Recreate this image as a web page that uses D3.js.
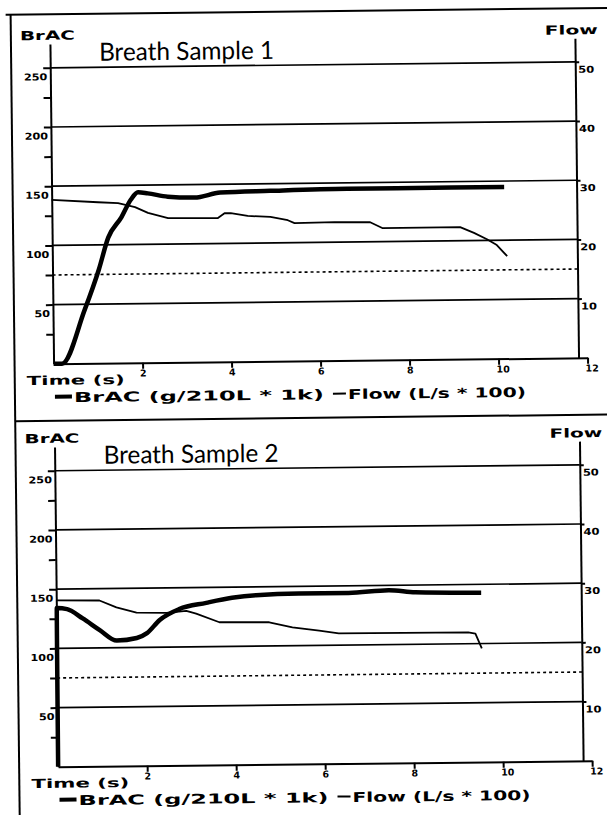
<!DOCTYPE html>
<meta charset="utf-8">
<style>
body { margin: 0; background: #fff; }
.frame { stroke: #000; stroke-width: 2px; }
.grid { stroke: #000; stroke-width: 1.7px; }
.axis path, .axis line { stroke: #000; stroke-width: 2px; }
.axis text { font-family: "DejaVu Sans"; font-weight: bold; font-size: 9.5px; fill: #000; }
.brac { fill: none; stroke: #000; stroke-width: 4.5px; stroke-linejoin: round; }
.flow { fill: none; stroke: #000; stroke-width: 1.8px; stroke-linejoin: round; }
.limit { stroke: #000; stroke-width: 1.6px; stroke-dasharray: 3,3; }
.lbl { font-family: "DejaVu Sans"; font-weight: bold; fill: #000; }
.title { font-family: "Lato", "Open Sans", sans-serif; font-size: 25px; fill: #000; }
</style>
<body>
<script src="https://d3js.org/d3.v7.min.js"></script>
<script>

// values read off the two printouts
// time in s, BrAC in g/210L * 1k, flow in L/s * 100
var brac1Time  = [0, 0.19, 0.71, 1.04, 1.26, 1.56, 1.78, 1.94, 2.16, 2.61, 3.21, 3.79, 4.91, 6.64, 7.76, 10.17];
var brac1Value = [0, 0, 45, 79, 106, 123, 138, 144, 143, 140, 139, 143, 144, 145, 145, 145];

var flow1Time  = [0, 1.04, 1.49, 1.87, 2.16, 2.61, 3.73, 3.88, 4.02, 4.4, 4.91, 5.3, 5.45, 6.35, 7.15, 7.42, 9.17, 9.48, 9.77, 9.99, 10.22];
var flow1Value = [27.7, 27.2, 27.0, 26.3, 25.3, 24.4, 24.3, 25.1, 25.1, 24.6, 24.4, 23.8, 23.3, 23.4, 23.3, 22.3, 22.3, 21.3, 20.2, 19.2, 17.3];

var brac2Time  = [0, 0.01, 0.24, 0.59, 0.97, 1.35, 1.80, 2.03, 2.32, 2.76, 3.37, 3.95, 4.49, 5.45, 6.57, 7.47, 8.07, 9.55];
var brac2Value = [0, 134, 133, 125, 115, 106, 108, 112, 123, 132, 137, 141, 143, 144, 144, 146, 144, 143];

var flow2Time  = [0, 0.97, 1.35, 1.80, 2.47, 2.92, 3.14, 3.66, 4.78, 5.3, 5.9, 6.34, 9.25, 9.41, 9.55];
var flow2Value = [28.1, 28.0, 26.8, 25.9, 25.8, 26.1, 25.6, 24.1, 24.0, 23.1, 22.5, 22.0, 21.9, 21.7, 19.2];

var limitBrac = 75;

var timeTicks  = [2, 4, 6, 8, 10, 12];
var bracTicks  = [25, 50, 75, 100, 125, 150, 175, 200, 225, 250];
var bracGrid   = [50, 100, 150, 200, 250];
var flowTicks  = [10, 20, 30, 40, 50];

// page layout (the printout is scanned a little crooked, hence the rotate)
var W = 607, H = 815;
var panelOffset = 403;
var xRight = 579;

var svg = d3.select("body").append("svg")
    .attr("width", W)
    .attr("height", H);

var root = svg.append("g")
    .attr("transform", "rotate(-0.65,300,400)");

// outer box and separator
root.append("line").attr("class", "frame").attr("x1", 10).attr("x2", 640).attr("y1", 11.5).attr("y2", 11.5);
root.append("line").attr("class", "frame").attr("x1", 15).attr("x2", 15).attr("y1", 11).attr("y2", 840);
root.append("line").attr("class", "frame").attr("x1", 15).attr("x2", 640).attr("y1", 418).attr("y2", 418);

var x = d3.scaleLinear().domain([0, 12]).range([54, 588]);
var y = d3.scaleLinear().domain([0, 270]).range([361, 41.3]);
var yFlow = d3.scaleLinear().domain([0, 54]).range([361, 41.3]);

function zip(a, b) {
    return a.map(function(d, i) { return [d, b[i]]; });
}

function drawPanel(top, title, bT, bV, fT, fV) {
    var g = root.append("g").attr("transform", "translate(0," + top + ")");

    // grid lines
    g.selectAll(".grid")
        .data(bracGrid)
      .enter().append("line")
        .attr("class", "grid")
        .attr("x1", x(0)).attr("x2", xRight)
        .attr("y1", function(d) { return y(d); })
        .attr("y2", function(d) { return y(d); });

    // limit line
    g.append("line")
        .attr("class", "limit")
        .attr("x1", x(0)).attr("x2", xRight)
        .attr("y1", y(limitBrac)).attr("y2", y(limitBrac));

    // left axis
    var left = g.append("g")
        .attr("class", "axis")
        .attr("transform", "translate(" + x(0) + ",0)")
        .call(d3.axisLeft(y).tickValues(bracTicks).tickSize(7).tickPadding(-4).tickSizeOuter(0)
            .tickFormat(function(d) { return d % 50 === 0 ? d : ""; }));
    left.selectAll("text")
        .attr("dy", "1.25em")
        .filter(function(d) { return d % 50 === 0; })
        .attr("textLength", function(d) { return String(d).length * 7.8; })
        .attr("lengthAdjust", "spacingAndGlyphs");

    // right axis
    var right = g.append("g")
        .attr("class", "axis")
        .attr("transform", "translate(" + xRight + ",0)")
        .call(d3.axisRight(yFlow).tickValues(flowTicks).tickSize(4).tickPadding(-1).tickSizeOuter(0));
    right.selectAll("text")
        .attr("dy", "1.1em")
        .attr("textLength", function(d) { return String(d).length * 8; })
        .attr("lengthAdjust", "spacingAndGlyphs");

    // bottom axis
    var bottom = g.append("g")
        .attr("class", "axis")
        .attr("transform", "translate(0," + y(0) + ")")
        .call(d3.axisBottom(x).tickValues(timeTicks).tickSize(6).tickPadding(1).tickSizeOuter(0));
    bottom.selectAll("text").attr("dx", function(d) { return d >= 10 ? 4 : 0; });

    // curves
    var bracLine = d3.line()
        .x(function(d) { return x(d[0]); })
        .y(function(d) { return y(d[1]); })
        .curve(d3.curveMonotoneX);
    var flowLine = d3.line()
        .x(function(d) { return x(d[0]); })
        .y(function(d) { return yFlow(d[1]); });

    g.append("path").datum(zip(fT, fV)).attr("class", "flow").attr("d", flowLine);
    g.append("path").datum(zip(bT, bV)).attr("class", "brac").attr("d", bracLine);

    // labels
    g.append("text").attr("class", "lbl").attr("x", 24).attr("y", 37)
        .style("font-size", "12.5px")
        .attr("textLength", 55).attr("lengthAdjust", "spacingAndGlyphs")
        .text("BrAC");
    g.append("text").attr("class", "lbl").attr("x", 549).attr("y", 37.5)
        .style("font-size", "12.5px")
        .attr("textLength", 53).attr("lengthAdjust", "spacingAndGlyphs")
        .text("Flow");
    g.append("text").attr("class", "title").attr("x", 103).attr("y", 58.5)
        .attr("textLength", 175).attr("lengthAdjust", "spacingAndGlyphs")
        .text(title);
    g.append("text").attr("class", "lbl").attr("x", 27).attr("y", 382)
        .style("font-size", "12.5px")
        .attr("textLength", 98).attr("lengthAdjust", "spacingAndGlyphs")
        .text("Time (s)");

    // legend
    g.append("line").attr("x1", 55).attr("x2", 72).attr("y1", 394).attr("y2", 394)
        .attr("stroke", "#000").attr("stroke-width", 4);
    g.append("text").attr("class", "lbl").attr("x", 74).attr("y", 399.5)
        .style("font-size", "13.5px")
        .attr("textLength", 250).attr("lengthAdjust", "spacingAndGlyphs")
        .text("BrAC (g/210L * 1k)");
    g.append("line").attr("x1", 333).attr("x2", 346).attr("y1", 394).attr("y2", 394)
        .attr("stroke", "#000").attr("stroke-width", 2);
    g.append("text").attr("class", "lbl").attr("x", 348).attr("y", 399.5)
        .style("font-size", "13.5px")
        .attr("textLength", 178).attr("lengthAdjust", "spacingAndGlyphs")
        .text("Flow (L/s * 100)");
}

drawPanel(0, "Breath Sample 1", brac1Time, brac1Value, flow1Time, flow1Value);
drawPanel(panelOffset, "Breath Sample 2", brac2Time, brac2Value, flow2Time, flow2Value);

</script>
</body>
